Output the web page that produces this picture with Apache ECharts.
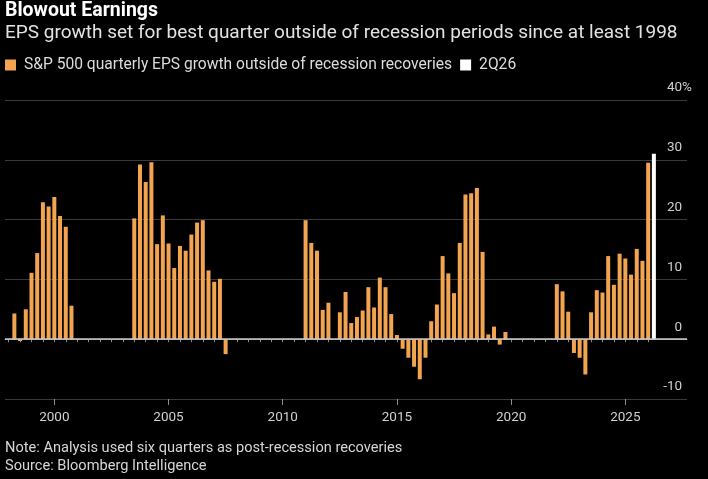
<!DOCTYPE html>
<html>
<head>
<meta charset="utf-8">
<title>Blowout Earnings</title>
<script src="https://cdn.jsdelivr.net/npm/echarts@6/dist/echarts.min.js"></script>
<style>
  html, body { margin: 0; padding: 0; background: #000; }
  #chart { width: 708px; height: 479px; }
</style>
</head>
<body>
<div id="chart"></div>
<script>
// S&P 500 quarterly EPS growth (%), one array per stretch outside recession recoveries
const stretchStarts = ["1998 Q2", "2003 Q3", "2011 Q1", "2022 Q1"];
const growth1998 = [4.3, -0.3, 5.0, 11.1, 14.4, 22.9, 22.2, 23.8, 20.6, 18.8, 5.6];
const growth2003 = [20.2, 29.2, 26.3, 29.6, 15.9, 20.7, 16.0, 11.9, 15.6, 14.8, 17.5, 19.5,
  19.9, 11.5, 9.6, 10.1, -2.5];
const growth2011 = [19.9, 16.1, 14.8, 4.9, 6.1, 0, 4.5, 7.9, 2.7, 3.7, 4.8, 8.7,
  5.3, 10.3, 8.7, 4.2, 0.7, -1.6, -3.1, -4.6, -6.7, -3.1, 3.0, 5.8,
  13.9, 11.0, 7.7, 16.1, 24.2, 24.4, 25.3, 14.6, 0.8, 2.1, -0.9, 1.2];
const growth2022 = [9.2, 8.0, 4.6, -2.3, -3.1, -5.9, 4.5, 8.2, 7.8, 13.9, 9.1, 14.3,
  13.5, 10.8, 15.1, 13.1, 29.5];
const latestQuarter = "2026 Q2";
const latestGrowth = 31.0;

const yearLabels = [2000, 2005, 2010, 2015, 2020, 2025];
const yTicks = [-10, 0, 10, 20, 30, 40];

const seriesName = "S&P 500 quarterly EPS growth outside of recession recoveries";
const font = "Roboto, 'Noto Sans', sans-serif";

// "1998 Q2" -> 1998.25 (bar sits at the start of its quarter)
function quarterPos(label) {
  const parts = label.split(" Q");
  return Number(parts[0]) + (Number(parts[1]) - 1) / 4;
}

const stretches = [growth1998, growth2003, growth2011, growth2022];
let orangeData = [];
stretches.forEach((vals, k) => {
  const start = quarterPos(stretchStarts[k]);
  vals.forEach((v, i) => orangeData.push([start + i / 4, v]));
});

// half-year ticks 1998..2026
let halfYears = [];
for (let y = 1998; y <= 2026; y += 0.5) halfYears.push(y);

const xMin = 1997.84, xMax = 2027.7;

let chart = echarts.init(document.getElementById("chart"));
chart.setOption({
  backgroundColor: "#000",
  animation: false,
  textStyle: { fontFamily: font },
  title: [
    {
      text: "Blowout Earnings",
      left: 5, top: 1, padding: 0,
      textStyle: { color: "#fff", fontSize: 19.5, fontWeight: "bold", fontFamily: font }
    },
    {
      text: "EPS growth set for best quarter outside of recession periods since at least 1998",
      left: 5, top: 24, padding: 0,
      textStyle: { color: "#e2e2e2", fontSize: 19, fontWeight: "normal", fontFamily: font }
    },
    {
      text: "Note: Analysis used six quarters as post-recession recoveries",
      left: 5, top: 441, padding: 0,
      textStyle: { color: "#d6d6d6", fontSize: 14.6, fontWeight: "normal", fontFamily: font }
    },
    {
      text: "Source: Bloomberg Intelligence",
      left: 5, top: 459, padding: 0,
      textStyle: { color: "#d6d6d6", fontSize: 14.6, fontWeight: "normal", fontFamily: font }
    }
  ],
  legend: {
    data: [seriesName, "2Q26"],
    left: 5, top: 57, padding: 0,
    icon: "rect", itemWidth: 11, itemHeight: 11, itemGap: 8,
    textStyle: { color: "#dcdcdc", fontSize: 15.6, fontFamily: font, padding: [0, 0, 0, 3] }
  },
  grid: { left: 5, right: 21, top: 100, bottom: 80, containLabel: false },
  xAxis: [
    {
      type: "value", min: xMin, max: xMax, position: "bottom",
      axisLine: { show: true, lineStyle: { color: "#8c8c8c", width: 1 } },
      axisTick: { show: true, customValues: halfYears, length: 3, lineStyle: { color: "#8c8c8c" } },
      axisLabel: { show: false },
      splitLine: { show: false }
    },
    {
      type: "value", min: xMin, max: xMax, position: "bottom",
      axisLine: { show: false },
      axisTick: { show: true, customValues: yearLabels, length: 6, lineStyle: { color: "#8c8c8c" } },
      axisLabel: {
        show: true, customValues: yearLabels, color: "#cfcfcf", fontSize: 13.5,
        fontFamily: font, margin: 12, formatter: v => String(v)
      },
      splitLine: { show: false }
    }
  ],
  yAxis: {
    type: "value", min: -10, max: 40, interval: 10, position: "right",
    axisLine: { show: false },
    axisTick: { show: false },
    axisLabel: {
      inside: true, margin: -5, verticalAlign: "bottom", padding: [0, 0, 5, 0],
      color: "#cfcfcf", fontSize: 13.5, fontFamily: font,
      customValues: yTicks,
      formatter: v => (v === 40 ? "40%" : v + "{t|%}"),
      rich: { t: { color: "rgba(0,0,0,0)", fontSize: 13.5, fontFamily: font } }
    },
    splitLine: { show: true, lineStyle: { color: "#3a3a3a", width: 1 } }
  },
  series: [
    {
      name: seriesName, type: "bar", xAxisIndex: 0,
      data: orangeData, barWidth: 4, barGap: "-100%",
      itemStyle: { color: "#f2a450" },
      markLine: {
        silent: true, symbol: "none", label: { show: false },
        lineStyle: { color: "#c8c8c8", width: 1.5, type: "solid" },
        data: [{ yAxis: 0 }]
      }
    },
    {
      name: "2Q26", type: "bar", xAxisIndex: 0,
      data: [[quarterPos(latestQuarter), latestGrowth]], barWidth: 4, barGap: "-100%",
      itemStyle: { color: "#ffffff" }
    }
  ]
});
</script>
</body>
</html>
